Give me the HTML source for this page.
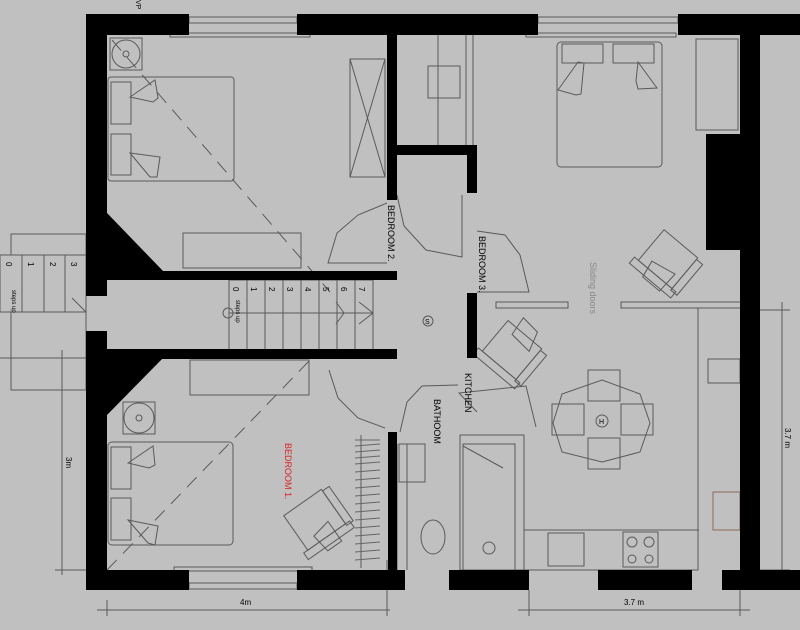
<!DOCTYPE html>
<html><head><meta charset="utf-8"><style>
html,body{margin:0;padding:0;background:#c0c0c0;}
svg{display:block}
text{font-family:"Liberation Sans",sans-serif;}
</style></head><body>
<svg width="800" height="630" viewBox="0 0 800 630" xmlns="http://www.w3.org/2000/svg">
<rect width="800" height="630" fill="#c0c0c0"/>
<g fill="none" stroke="#5a5a5a" stroke-width="1">
<rect x="0" y="255" width="86" height="57"/>
<rect x="11" y="234" width="75" height="21"/>
<rect x="11" y="312" width="75" height="78"/>
<line x1="22" y1="255" x2="22" y2="312"/><line x1="44" y1="255" x2="44" y2="312"/><line x1="65" y1="255" x2="65" y2="312"/>
<line x1="0" y1="358" x2="86" y2="358"/>
<line x1="72" y1="298" x2="86" y2="312"/>
<rect x="229" y="280" width="144" height="70"/>
<line x1="247" y1="280" x2="247" y2="350"/><line x1="265" y1="280" x2="265" y2="350"/><line x1="283" y1="280" x2="283" y2="350"/><line x1="301" y1="280" x2="301" y2="350"/><line x1="319" y1="280" x2="319" y2="350"/><line x1="337" y1="280" x2="337" y2="350"/><line x1="355" y1="280" x2="355" y2="350"/>
<line x1="229" y1="313" x2="373" y2="313"/>
<circle cx="228" cy="313" r="5"/>
<polyline points="336,302 344,313 336,324"/><polyline points="359,302 373,313 359,324"/>
<line x1="112" y1="40" x2="330" y2="292" stroke-dasharray="14,9"/>
<line x1="107" y1="570" x2="310" y2="360" stroke-dasharray="14,9"/>
<rect x="110" y="38" width="32" height="32"/><circle cx="126" cy="54" r="14"/><circle cx="126" cy="54" r="3"/>
<rect x="108" y="77" width="126" height="104" rx="3"/>
<rect x="111" y="82" width="20" height="42"/><rect x="111" y="134" width="20" height="41"/>
<polygon points="130,97 155,80 158,98 153,102"/><polygon points="130,153 160,157 157,177 150,177"/>
<rect x="350" y="59" width="35" height="118"/><line x1="350" y1="59" x2="385" y2="177"/><line x1="385" y1="59" x2="350" y2="177"/>
<rect x="183" y="233" width="118" height="35"/>
<polyline points="387,203 358,215 337,233 328,263 387,263"/>
<rect x="170" y="33" width="140" height="4"/>
<rect x="189" y="17" width="108" height="6"/>
<rect x="526" y="33" width="150" height="4"/>
<rect x="538" y="17" width="140" height="6"/>
<line x1="438" y1="35" x2="438" y2="145"/><line x1="466" y1="35" x2="466" y2="145"/><line x1="473" y1="35" x2="473" y2="145"/>
<rect x="428" y="66" width="32" height="32"/>
<polyline points="397,195 404,226 426,250 462,257 462,195"/>
<polyline points="477,231 505,235 520,255 529,292 477,292"/>
<rect x="557" y="42" width="105" height="125" rx="4"/>
<rect x="562" y="44" width="41" height="19"/><rect x="613" y="44" width="41" height="19"/>
<polygon points="558,90 578,62 584,63 581,94 576,95"/><polygon points="638,62 657,88 638,89 636,81"/>
<rect x="696" y="39" width="42" height="91"/>
<g transform="rotate(40 666 260)"><rect x="645" y="238" width="44" height="40"/><rect x="640" y="278" width="54" height="8"/><rect x="689" y="240" width="8" height="40"/><polygon points="656,270 682,265 681,288 659,288"/></g>
<rect x="496" y="302" width="72" height="6"/><rect x="621" y="302" width="120" height="6"/>
<line x1="698" y1="308" x2="698" y2="530"/>
<line x1="699" y1="530" x2="529" y2="530"/>
<rect x="708" y="359" width="32" height="24"/>
<rect x="713" y="492" width="27" height="38" stroke="#8a6a5a"/>
<g transform="rotate(40 512 350)"><rect x="490" y="330" width="44" height="40"/><rect x="485" y="370" width="54" height="8"/><rect x="534" y="332" width="8" height="40"/><polygon points="500,318 520,320 526,340 502,338"/></g>
<polyline points="477,412 459,393 526,386 536,427"/>
<polygon points="602,380 640,394 650,423 640,452 602,462 562,452 553,423 562,394"/>
<rect x="588" y="370" width="32" height="31"/><rect x="588" y="438" width="32" height="31"/>
<rect x="552" y="404" width="32" height="31"/><rect x="621" y="404" width="32" height="31"/>
<circle cx="602" cy="421" r="6"/>
<rect x="524" y="530" width="174" height="40"/>
<rect x="548" y="533" width="36" height="33"/>
<rect x="623" y="532" width="35" height="35"/>
<circle cx="632" cy="542" r="5"/><circle cx="649" cy="542" r="5"/><circle cx="632" cy="559" r="4"/><circle cx="649" cy="559" r="4"/>
<polyline points="458,385 422,386 407,402 400,432"/>
<rect x="460" y="435" width="64" height="135"/><rect x="463" y="444" width="52" height="126"/>
<line x1="463" y1="446" x2="503" y2="468"/>
<rect x="399" y="444" width="26" height="38"/>
<ellipse cx="433" cy="537" rx="12" ry="17"/>
<circle cx="489" cy="548" r="6"/>
<line x1="397" y1="444" x2="397" y2="570"/>
<line x1="407" y1="444" x2="407" y2="570"/>
<rect x="190" y="360" width="119" height="35"/>
<rect x="123" y="402" width="32" height="32"/><circle cx="139" cy="418" r="15"/><circle cx="139" cy="418" r="3"/>
<rect x="108" y="442" width="125" height="103" rx="4"/>
<rect x="111" y="447" width="20" height="42"/><rect x="111" y="498" width="20" height="42"/>
<polygon points="128,463 153,446 155,465 149,468"/><polygon points="128,520 158,526 155,545 148,543"/>
<g transform="rotate(-35 316 520)"><rect x="292" y="498" width="46" height="42"/><rect x="287" y="540" width="56" height="8"/><rect x="338" y="500" width="8" height="42"/><polygon points="305,532 325,528 325,552 308,552"/></g>
<polyline points="329,370 338,398 358,418 385,428"/>
<line x1="361" y1="435" x2="361" y2="568"/>
<g stroke="#666">
<line x1="355" y1="440" x2="380" y2="440"/><line x1="355" y1="446" x2="380" y2="444"/><line x1="355" y1="452" x2="380" y2="450"/><line x1="355" y1="458" x2="380" y2="456"/><line x1="355" y1="464" x2="380" y2="462"/><line x1="355" y1="472" x2="380" y2="470"/><line x1="355" y1="480" x2="380" y2="478"/><line x1="355" y1="488" x2="380" y2="486"/><line x1="355" y1="496" x2="380" y2="494"/><line x1="355" y1="504" x2="380" y2="502"/><line x1="355" y1="512" x2="380" y2="510"/><line x1="355" y1="520" x2="380" y2="518"/><line x1="355" y1="528" x2="380" y2="526"/><line x1="355" y1="536" x2="380" y2="534"/><line x1="355" y1="544" x2="380" y2="542"/><line x1="355" y1="552" x2="380" y2="550"/><line x1="355" y1="560" x2="380" y2="558"/>
</g>
<rect x="174" y="567" width="138" height="4"/>
<rect x="189" y="583" width="108" height="6"/>
<circle cx="428" cy="321" r="5"/>
<line x1="62" y1="350" x2="62" y2="575"/><line x1="55" y1="358" x2="86" y2="358"/><line x1="55" y1="570" x2="86" y2="570"/>
<line x1="97" y1="610" x2="390" y2="610"/><line x1="107" y1="600" x2="107" y2="616"/><line x1="387" y1="560" x2="387" y2="616"/>
<line x1="518" y1="610" x2="750" y2="610"/><line x1="529" y1="590" x2="529" y2="616"/><line x1="740" y1="590" x2="740" y2="616"/>
<line x1="782" y1="302" x2="782" y2="570"/><line x1="760" y1="310" x2="790" y2="310"/><line x1="760" y1="570" x2="790" y2="570"/>
</g>
<g fill="#000">
<rect x="86" y="14" width="103" height="21"/>
<rect x="297" y="14" width="241" height="21"/>
<rect x="678" y="14" width="122" height="21"/>
<rect x="86" y="14" width="21" height="282"/>
<rect x="86" y="331" width="21" height="259"/>
<rect x="740" y="14" width="20" height="576"/>
<rect x="706" y="134" width="34" height="116"/>
<rect x="86" y="271" width="311" height="9"/>
<polygon points="107,213 163,271 107,271"/>
<rect x="387" y="35" width="10" height="165"/>
<rect x="387" y="145" width="90" height="10"/>
<rect x="467" y="145" width="10" height="48"/>
<rect x="467" y="293" width="10" height="65"/>
<rect x="107" y="349" width="290" height="10"/>
<polygon points="107,358 163,358 107,415"/>
<rect x="388" y="432" width="9" height="158"/>
<rect x="86" y="570" width="103" height="20"/>
<rect x="297" y="570" width="108" height="20"/>
<rect x="449" y="570" width="80" height="20"/>
<rect x="598" y="570" width="94" height="20"/>
<rect x="722" y="570" width="78" height="20"/>
</g>
<g font-size="9" fill="#000">
<text transform="translate(388,205) rotate(90)">BEDROOM 2.</text>
<text transform="translate(479,236) rotate(90)">BEDROOM 3.</text>
<text transform="translate(465,373) rotate(90)">KITCHEN</text>
<text transform="translate(434,399) rotate(90)">BATHOOM</text>
<text transform="translate(285,443) rotate(90)" fill="#e02020">BEDROOM 1.</text>
<text transform="translate(590,262) rotate(90)" fill="#888">Sliding doors</text>
<text x="240" y="605" font-size="8">4m</text>
<text x="624" y="605" font-size="8">3.7 m</text>
<text transform="translate(66,457) rotate(90)" font-size="8">3m</text>
<text transform="translate(785,428) rotate(90)" font-size="8">3.7 m</text>
<text transform="translate(6,262) rotate(90)" font-size="8">0</text>
<text transform="translate(28,262) rotate(90)" font-size="8">1</text>
<text transform="translate(50,262) rotate(90)" font-size="8">2</text>
<text transform="translate(71,262) rotate(90)" font-size="8">3</text>
<text transform="translate(12,290) rotate(90)" font-size="6">steps up</text>
<text transform="translate(233,287) rotate(90)" font-size="8">0</text>
<text transform="translate(251,287) rotate(90)" font-size="8">1</text>
<text transform="translate(269,287) rotate(90)" font-size="8">2</text>
<text transform="translate(287,287) rotate(90)" font-size="8">3</text>
<text transform="translate(305,287) rotate(90)" font-size="8">4</text>
<text transform="translate(323,287) rotate(90)" font-size="8">5</text>
<text transform="translate(341,287) rotate(90)" font-size="8">6</text>
<text transform="translate(359,287) rotate(90)" font-size="8">7</text>
<text transform="translate(236,300) rotate(90)" font-size="6">steps up</text>
<text transform="translate(136,0) rotate(90)" font-size="7">VP</text>
<text x="425" y="324" font-size="7">S</text>
<text x="599" y="424" font-size="7">H</text>
</g>
</svg>
</body></html>
